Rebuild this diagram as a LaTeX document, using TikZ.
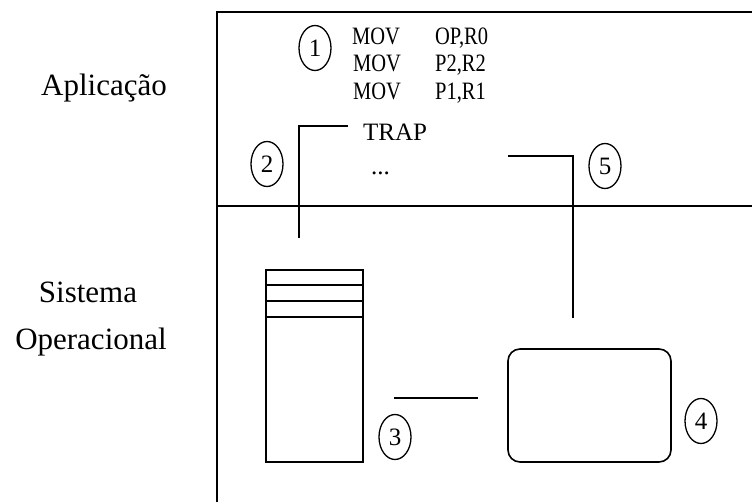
\documentclass[tikz,border=0pt]{standalone}
\usepackage{fontspec}
\setmainfont{Liberation Serif}
\usetikzlibrary{shapes.geometric}
\begin{document}
\begin{tikzpicture}[x=1pt,y=-1pt,
  ln/.style={line width=1.6pt},
  num/.style={draw,ellipse,line width=1.3pt,inner sep=0pt,minimum width=32pt,minimum height=45pt,font=\fontsize{25}{27}\selectfont},
  side/.style={font=\fontsize{31}{36}\selectfont,anchor=base},
  code/.style={font=\fontsize{25}{27}\selectfont,anchor=base west,inner sep=0pt},
  narrow/.style={code,xscale=0.82}]
\useasboundingbox (0,0) rectangle (752,502);
% frame
\coordinate (ftl) at (217,12);
\coordinate (ftr) at (752,12);
\coordinate (fbl) at (217,502);
\coordinate (dl) at (217,206);
\coordinate (dr) at (752,206);
\draw[ln] (ftr) -- (ftl) -- (fbl);
\draw[ln] (dl) -- (dr);
% side labels
\node[side] (apl) at (104,96) {Aplicação};
\node[side] (sis) at (88,303) {Sistema};
\node[side] (ope) at (91,350) {Operacional};
% code
\node[narrow] (m1) at (352,45) {MOV};
\node[narrow] (o1) at (435,45) {OP,R0};
\node[narrow] (m2) at (353,72) {MOV};
\node[narrow] (o2) at (435,72) {P2,R2};
\node[narrow] (m3) at (353,100) {MOV};
\node[narrow] (o3) at (435,100) {P1,R1};
\node[code] (trap) at (363,141) {TRAP};
\node[code] (dots) at (371,175) {...};
% numbered marks
\node[num] (n1) at (315,48) {1};
\node[num] (n2) at (267,164) {2};
\node[num] (n5) at (605,166) {5};
\node[num] (n3) at (395,437) {3};
\node[num] (n4) at (701,421) {4};
% stack
\node[draw,line width=1.6pt,minimum width=97pt,minimum height=192pt,inner sep=0pt] (stack) at (314.5,366) {};
\draw[ln] ([yshift=-16pt]stack.north west) -- ([yshift=-16pt]stack.north east);
\draw[ln] ([yshift=-32pt]stack.north west) -- ([yshift=-32pt]stack.north east);
\draw[ln] ([yshift=-48pt]stack.north west) -- ([yshift=-48pt]stack.north east);
% rounded box
\node[draw,line width=1.6pt,rounded corners=12pt,minimum width=163pt,minimum height=113pt,inner sep=0pt] (box) at (589.5,405.5) {};
% connectors
\coordinate (t1) at (348,126);
\coordinate (t2) at (299,126);
\coordinate (t3) at (299,238);
\draw[ln] (t1) -- (t2) -- (t3);
\coordinate (r1) at (508,156);
\coordinate (r2) at (573,156);
\coordinate (r3) at (573,318);
\draw[ln] (r1) -- (r2) -- (r3);
\coordinate (s1) at (394,398);
\coordinate (s2) at (478,398);
\draw[ln] (s1) -- (s2);
\end{tikzpicture}
\end{document}
